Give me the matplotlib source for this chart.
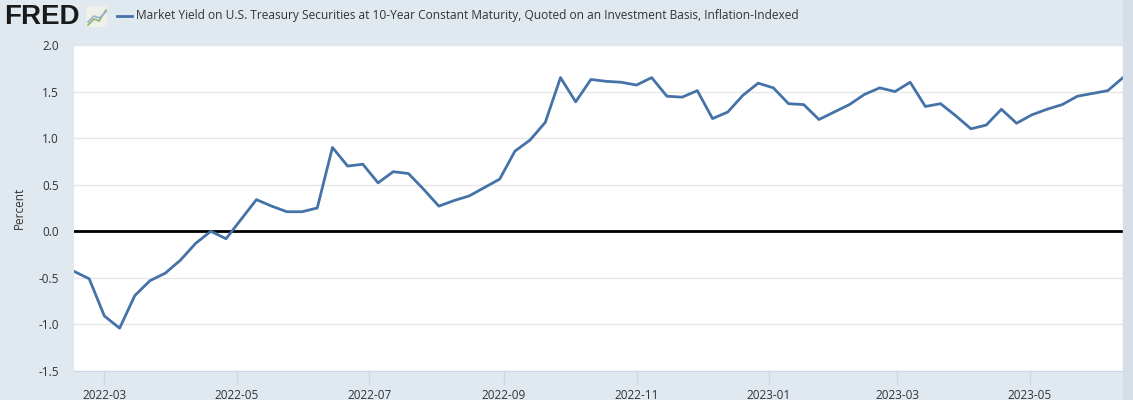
import numpy as np
import pandas as pd
import matplotlib
matplotlib.use("Agg")
import matplotlib.pyplot as plt
from matplotlib.lines import Line2D
from matplotlib.patches import FancyBboxPatch

plt.rcParams['font.family'] = ['Open Sans', 'DejaVu Sans']

dates = pd.date_range('2022-02-15', periods=70, freq='7D')
yields = [-0.43, -0.51, -0.91, -1.04, -0.69, -0.53, -0.45, -0.31, -0.13, 0.00,
          -0.08, 0.13, 0.34, 0.27, 0.21, 0.21, 0.25, 0.90, 0.70, 0.72,
          0.52, 0.64, 0.62, 0.45, 0.27, 0.33, 0.38, 0.47, 0.56, 0.86,
          0.98, 1.17, 1.65, 1.39, 1.63, 1.61, 1.60, 1.57, 1.65, 1.45,
          1.44, 1.51, 1.21, 1.28, 1.46, 1.59, 1.54, 1.37, 1.36, 1.20,
          1.28, 1.36, 1.47, 1.54, 1.50, 1.60, 1.34, 1.37, 1.24, 1.10,
          1.14, 1.31, 1.16, 1.25, 1.31, 1.36, 1.45, 1.48, 1.51, 1.65]
y_ticks = [-1.5, -1.0, -0.5, 0.0, 0.5, 1.0, 1.5, 2.0]
x_ticks = ['2022-03', '2022-05', '2022-07', '2022-09', '2022-11',
           '2023-01', '2023-03', '2023-05']
title = ('Market Yield on U.S. Treasury Securities at 10-Year Constant Maturity, '
         'Quoted on an Investment Basis, Inflation-Indexed')

bg = '#e1e9f0'
fig = plt.figure(figsize=(11.33, 4), dpi=100, facecolor=bg)
ax = fig.add_axes([74 / 1133, 29 / 400, 1049 / 1133, 326 / 400])
ax.set_facecolor('white')

ax.plot(dates, yields, color='#4572a7', lw=2, zorder=3)
ax.axhline(0, color='black', lw=2, zorder=2)

ax.set_xlim(dates[0], dates[-1])
ax.set_ylim(-1.5, 2.0)
ax.set_yticks(y_ticks)
ax.set_yticklabels(['%.1f' % v for v in y_ticks])
ax.grid(axis='y', color='#e6e6e6', lw=1, zorder=0)

xt = [pd.Timestamp(s + '-01') for s in x_ticks]
ax.set_xticks(xt)
ax.set_xticklabels(x_ticks)

for s in ['top', 'right', 'left']:
    ax.spines[s].set_visible(False)
ax.spines['bottom'].set_color('#ccd6eb')
ax.tick_params(axis='x', length=10, width=1, color='#ccd6eb', pad=3,
               labelsize=8.5, labelcolor='#333333')
ax.tick_params(axis='y', length=0, pad=11, labelsize=8.5, labelcolor='#333333')
ax.set_ylabel('Percent', fontsize=8.5, color='#333333', labelpad=9)

# right-side strip
fig.patches.append(plt.Rectangle((1123 / 1133, 0), 10 / 1133, 1, transform=fig.transFigure,
                                 color='#d6dfe8', zorder=0))

# header: logo + legend
fig.text(4 / 1133, 1 - 17 / 400, 'FRED', fontsize=20, fontweight='bold',
         family='Liberation Sans', color='#1a1a1a', va='center', ha='left')
icon = FancyBboxPatch((86 / 1133, 1 - 27 / 400), 21 / 1133, 21 / 400,
                      boxstyle='round,pad=0,rounding_size=0.004',
                      transform=fig.transFigure, fc='#f0f0ea', ec='none')
fig.patches.append(icon)
fig.lines.append(Line2D([88 / 1133, 94 / 1133, 99 / 1133, 106 / 1133],
                        [1 - 25 / 400, 1 - 19 / 400, 1 - 21 / 400, 1 - 10 / 400],
                        transform=fig.transFigure, color='#8cb56b', lw=1.2))
fig.lines.append(Line2D([88 / 1133, 94 / 1133, 99 / 1133, 106 / 1133],
                        [1 - 22 / 400, 1 - 16 / 400, 1 - 18 / 400, 1 - 12 / 400],
                        transform=fig.transFigure, color='#9bb3cc', lw=1.2))
fig.lines.append(Line2D([117 / 1133, 132 / 1133], [1 - 16 / 400, 1 - 16 / 400],
                        transform=fig.transFigure, color='#4572a7', lw=2))
fig.text(136 / 1133, 1 - 16 / 400, title, fontsize=8.6, color='#333333',
         va='center', ha='left')

fig.savefig('out.png', dpi=100, facecolor=bg)
